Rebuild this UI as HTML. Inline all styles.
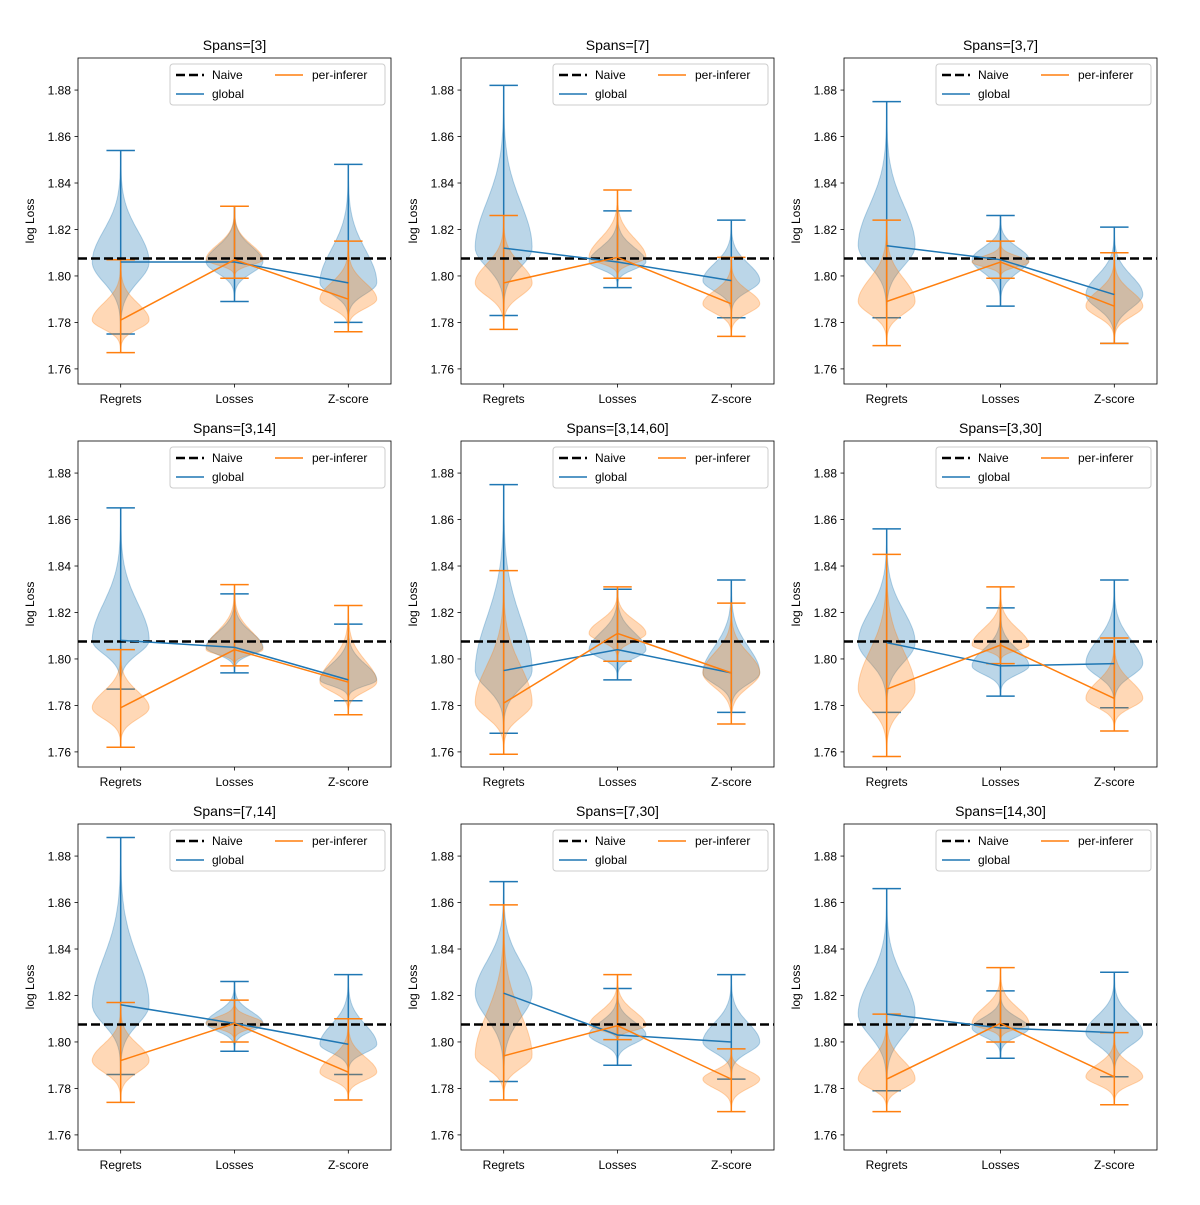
<!DOCTYPE html>
<html><head><meta charset="utf-8"><style>
body{margin:0;background:#fff;}
svg{font-family:"Liberation Sans","DejaVu Sans",sans-serif;}
</style></head><body>
<svg id="chart" width="1200" height="1200" viewBox="0 0 1200 1200" xmlns="http://www.w3.org/2000/svg"></svg>
<script>
const titles=["Spans=[3]","Spans=[7]","Spans=[3,7]","Spans=[3,14]","Spans=[3,14,60]","Spans=[3,30]","Spans=[7,14]","Spans=[7,30]","Spans=[14,30]"];
const categories=["Regrets","Losses","Z-score"];
const yTicks=[1.76,1.78,1.80,1.82,1.84,1.86,1.88];
const naive=1.8075;
// per panel: [Regrets, Losses, Z-score] each [min,max,mean]
const globalMin=[[1.775,1.789,1.780],[1.783,1.795,1.782],[1.782,1.787,1.771],[1.787,1.794,1.782],[1.768,1.791,1.777],[1.777,1.784,1.779],[1.786,1.796,1.786],[1.783,1.790,1.784],[1.779,1.793,1.785]];
const globalMax=[[1.854,1.830,1.848],[1.882,1.828,1.824],[1.875,1.826,1.821],[1.865,1.828,1.815],[1.875,1.830,1.834],[1.856,1.822,1.834],[1.888,1.826,1.829],[1.869,1.823,1.829],[1.866,1.822,1.830]];
const globalMean=[[1.806,1.806,1.797],[1.812,1.806,1.798],[1.813,1.807,1.792],[1.808,1.805,1.791],[1.795,1.804,1.794],[1.807,1.797,1.798],[1.816,1.808,1.799],[1.821,1.803,1.800],[1.812,1.806,1.804]];
const perMin=[[1.767,1.799,1.776],[1.777,1.799,1.774],[1.770,1.799,1.771],[1.762,1.797,1.776],[1.759,1.799,1.772],[1.758,1.798,1.769],[1.774,1.800,1.775],[1.775,1.801,1.770],[1.770,1.800,1.773]];
const perMax=[[1.807,1.830,1.815],[1.826,1.837,1.808],[1.824,1.815,1.810],[1.804,1.832,1.823],[1.838,1.831,1.824],[1.845,1.831,1.809],[1.817,1.818,1.810],[1.859,1.829,1.797],[1.812,1.832,1.804]];
const perMean=[[1.781,1.807,1.790],[1.797,1.808,1.788],[1.789,1.806,1.787],[1.779,1.804,1.790],[1.781,1.811,1.794],[1.787,1.806,1.783],[1.792,1.808,1.787],[1.794,1.807,1.784],[1.784,1.808,1.785]];

const NS="http://www.w3.org/2000/svg";
const svg=document.getElementById('chart');
function mk(tag,attrs,parent){const e=document.createElementNS(NS,tag);for(const k in attrs)e.setAttribute(k,attrs[k]);(parent||svg).appendChild(e);return e;}
const BLUE="#1f77b4",ORANGE="#ff7f0e";
const W=313,H=326,Y0=1.8938,Y1=1.7535,X0=0.625,X1=3.375;

for(let p=0;p<9;p++){
  const col=p%3,row=Math.floor(p/3);
  const L=78+col*383,T=58+row*383;
  const xs=v=>L+(v-X0)/(X1-X0)*W;
  const ys=v=>T+(Y0-v)/(Y0-Y1)*H;
  const g=mk('g',{});
  
  
  const t=mk('text',{x:L+W/2,y:T-8,'text-anchor':'middle','font-size':14,fill:'#000'},g);
  t.textContent=titles[p];
  
  
  const series=[[globalMin,globalMax,globalMean,BLUE,'global'],[perMin,perMax,perMean,ORANGE,'per-inferer']];
  series.forEach(s=>{
    const [mn,mx,me,c,nm]=s;
    for(let k=0;k<3;k++){
      const lo=mn[p][k],hi=mx[p][k],m=me[p][k];
      const sl=Math.max((m-lo)/3.6,0.002),sh=Math.max((hi-m)/3.6,0.002);
      const N=60,right=[],left=[];
      for(let i=0;i<=N;i++){
        const v=lo+(hi-lo)*i/N;
        const sd=v<m?sl:sh;
        const w=0.25*Math.exp(-0.5*((v-m)/sd)**2);
        right.push(xs(k+1+w).toFixed(1)+','+ys(v).toFixed(1));
        left.unshift(xs(k+1-w).toFixed(1)+','+ys(v).toFixed(1));
      }
      const vp=mk('polygon',{points:right.concat(left).join(' '),fill:c,'fill-opacity':0.3,stroke:c,'stroke-opacity':0.3,'stroke-width':1},g);
      
      
    }
    for(let k=0;k<3;k++){
      const lo=mn[p][k],hi=mx[p][k],cx=xs(k+1),hw=xs(1.125)-xs(1);
      const bar=mk('path',{d:`M${cx},${ys(lo)}V${ys(hi)}M${cx-hw},${ys(lo)}H${cx+hw}M${cx-hw},${ys(hi)}H${cx+hw}`,stroke:c,'stroke-width':1.5,fill:'none'},g);
      
      
    }
  });
  const nl=mk('line',{x1:L,x2:L+W,y1:ys(naive),y2:ys(naive),stroke:'#000','stroke-width':2.5,'stroke-dasharray':'9,4'},g);
  
  
  series.forEach(s=>{
    const pts=s[2][p].map((v,k)=>xs(k+1)+','+ys(v)).join(' ');
    const pl=mk('polyline',{points:pts,fill:'none',stroke:s[3],'stroke-width':1.5},g);
    
    
  });
  const fr=mk('rect',{x:L,y:T,width:W,height:H,fill:'none',stroke:'#000','stroke-width':0.8},g);
  
  
  yTicks.forEach(v=>{
    mk('line',{x1:L-3.5,x2:L,y1:ys(v),y2:ys(v),stroke:'#000','stroke-width':0.8},g);
    const tl=mk('text',{x:L-7,y:ys(v)+4.5,'text-anchor':'end','font-size':12,fill:'#000'},g);
    tl.textContent=v.toFixed(2);
    
    
  });
  categories.forEach((c,k)=>{
    mk('line',{x1:xs(k+1),x2:xs(k+1),y1:T+H,y2:T+H+3.5,stroke:'#000','stroke-width':0.8},g);
    const tl=mk('text',{x:xs(k+1),y:T+H+19,'text-anchor':'middle','font-size':12,fill:'#000'},g);
    tl.textContent=c;
    
    
  });
  const yl=mk('text',{x:0,y:0,'text-anchor':'middle','font-size':12,fill:'#000',transform:`translate(${L-44},${T+H/2}) rotate(-90)`},g);
  yl.textContent='log Loss';
  
  
  const lg=mk('g',{},g);
  
  
  mk('rect',{x:L+92,y:T+6,width:215,height:41,rx:3,fill:'#fff','fill-opacity':0.8,stroke:'#ccc','stroke-width':1},lg);
  mk('line',{x1:L+98,x2:L+126,y1:T+17,y2:T+17,stroke:'#000','stroke-width':2.5,'stroke-dasharray':'9,4'},lg);
  mk('line',{x1:L+98,x2:L+126,y1:T+36,y2:T+36,stroke:BLUE,'stroke-width':1.5},lg);
  mk('line',{x1:L+197,x2:L+225,y1:T+17,y2:T+17,stroke:ORANGE,'stroke-width':1.5},lg);
  [['Naive',L+134,T+21],['global',L+134,T+40],['per-inferer',L+234,T+21]].forEach(a=>{
    const e=mk('text',{x:a[1],y:a[2],'font-size':12,fill:'#000'},lg);
    e.textContent=a[0];
    
    
  });
}
</script>
</body></html>
